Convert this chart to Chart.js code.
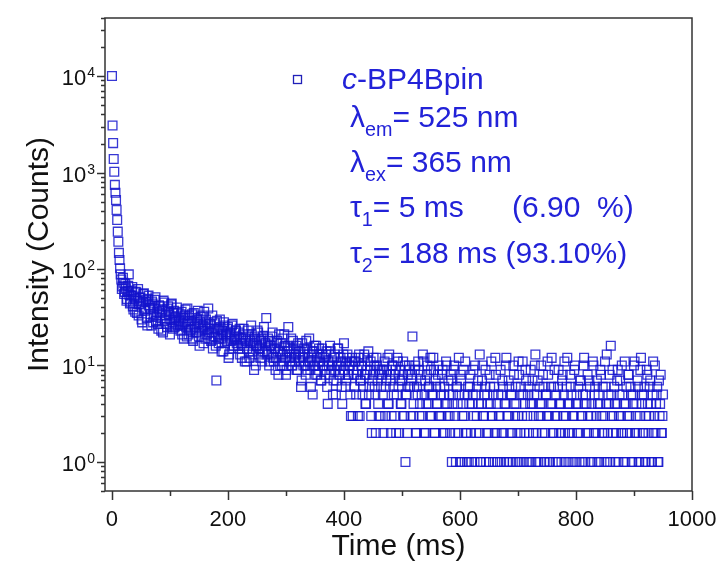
<!DOCTYPE html>
<html>
<head>
<meta charset="utf-8">
<script src="https://cdn.jsdelivr.net/npm/chart.js@4.4.1/dist/chart.umd.min.js"></script>
<style>
html, body { margin: 0; padding: 0; background: #fff; }
</style>
</head>
<body>
<canvas id="chart" width="728" height="561"></canvas>
<script>
// --- DATA ---
// first 16 ms, 1 ms apart
const decayTimes = [0, 1, 2, 3, 4, 5, 6, 7, 8, 9, 10, 11, 12, 13, 14, 15];
const decayCounts = [10000, 3080, 2020, 1380, 1020, 745, 617, 520, 410, 322, 244, 192, 147, 124, 102, 88];

// tail, even channels (16, 18, ... 950 ms)
const evenStart = 16;
const oddStart = 17;
const channelStep = 2;
const tailEvenA = [ // 16 - 214 ms
    78, 66, 72, 58, 63, 49, 67, 54, 45, 60, 41, 52, 36, 57, 47, 33, 50, 44, 28, 55, 39, 46, 31, 49, 42,
    38, 26, 44, 33, 48, 29, 36, 24, 41, 31, 37, 22, 45, 30, 27, 39, 34, 21, 43, 28, 35, 25, 32, 40, 26,
    30, 23, 36, 27, 19, 33, 25, 39, 21, 29, 24, 34, 18, 26, 31, 22, 37, 20, 28, 24, 33, 17, 25, 30, 21,
    39, 19, 26, 22, 15, 28, 20, 7, 24, 17, 30, 19, 23, 14, 26, 21, 18, 25, 13, 22, 19, 27, 16, 20, 23
];
const tailEvenB = [ // 216 - 514 ms
    20, 15, 24, 17, 12, 21, 16, 19, 11, 23, 14, 18, 26, 13, 17, 20, 10, 16, 22, 15, 12, 19, 14, 25, 17,
    31, 13, 18, 11, 16, 20, 12, 15, 9, 17, 14, 21, 10, 13, 19, 11, 16, 8, 14, 25, 12, 15, 10, 18, 13,
    11, 16, 9, 14, 12, 6, 17, 10, 13, 8, 15, 11, 19, 9, 12, 5, 14, 10, 16, 8, 11, 13, 7, 15, 10,
    12, 8, 14, 4, 10, 16, 9, 11, 7, 13, 5, 10, 15, 8, 12, 6, 9, 17, 11, 7, 13, 8, 10, 3, 12,
    9, 6, 11, 8, 3, 13, 7, 10, 5, 12, 8, 4, 9, 14, 6, 11, 2, 8, 10, 5, 12, 7, 3, 9, 6,
    8, 2, 11, 6, 9, 4, 13, 7, 3, 10, 5, 8, 2, 12, 6, 9, 4, 7, 11, 3, 1, 5, 8, 10, 6
];
const tailEvenC = [ // 516 - 950 ms
    7, 20, 4, 9, 2, 6, 11, 3, 8, 5, 13, 2, 7, 4, 10, 6, 3, 9, 5, 12, 2, 7, 4, 8, 3,
    6, 3, 9, 5, 2, 11, 4, 7, 3, 8, 1, 5, 10, 2, 6, 4, 12, 1, 7, 3, 9, 5, 2, 1, 6,
    4, 8, 1, 5, 3, 10, 2, 6, 4, 13, 1, 7, 3, 5, 9, 2, 4, 1, 6, 11, 3, 5, 2, 8, 1,
    5, 3, 9, 2, 6, 1, 4, 12, 3, 7, 1, 5, 2, 10, 4, 6, 1, 3, 8, 2, 5, 11, 1, 4, 7,
    3, 6, 1, 9, 4, 2, 5, 13, 1, 7, 3, 4, 10, 2, 6, 1, 5, 3, 8, 1, 4, 12, 2, 6, 3,
    5, 1, 9, 4, 2, 7, 3, 11, 1, 6, 4, 2, 8, 5, 1, 3, 10, 4, 2, 6, 1, 7, 3, 5, 12,
    1, 4, 8, 2, 6, 3, 1, 10, 5, 2, 7, 4, 1, 9, 3, 6, 2, 11, 4, 1, 5, 8, 16, 3, 2,
    6, 1, 4, 9, 3, 7, 2, 5, 1, 11, 4, 2, 8, 3, 6, 1, 5, 10, 2, 4, 7, 1, 3, 12, 5,
    2, 6, 1, 9, 4, 3, 7, 1, 5, 2, 10, 4, 6, 1, 3, 8, 2, 5
];

// tail, odd channels (17, 19, ... 949 ms)
const tailOddA = [ // 17 - 215 ms
    62, 81, 55, 70, 47, 59, 88, 44, 53, 65, 38, 49, 58, 35, 62, 43, 51, 30, 46, 56, 37, 48, 26, 53, 40,
    34, 46, 28, 39, 51, 32, 27, 42, 35, 23, 38, 47, 29, 33, 25, 41, 36, 30, 44, 24, 37, 31, 27, 35, 29,
    26, 34, 21, 31, 28, 38, 20, 27, 33, 23, 29, 19, 35, 25, 22, 30, 27, 16, 32, 23, 26, 36, 19, 28, 24,
    22, 27, 18, 33, 20, 24, 16, 29, 21, 19, 25, 14, 22, 28, 17, 20, 24, 12, 21, 18, 26, 15, 19, 23, 17
];
const tailOddB = [ // 217 - 515 ms
    16, 22, 13, 19, 17, 24, 11, 18, 15, 20, 12, 17, 21, 14, 9, 19, 16, 23, 13, 15, 18, 11, 20, 14, 17,
    14, 19, 10, 16, 13, 22, 11, 15, 12, 18, 8, 14, 17, 10, 13, 21, 12, 9, 16, 14, 11, 19, 10, 15, 12,
    13, 9, 17, 11, 14, 7, 12, 15, 10, 18, 9, 13, 11, 6, 14, 10, 16, 8, 12, 9, 15, 11, 7, 13, 10,
    9, 13, 6, 11, 8, 14, 10, 5, 12, 9, 7, 15, 10, 8, 11, 4, 13, 9, 6, 12, 8, 10, 5, 11, 3,
    8, 11, 5, 9, 12, 3, 7, 10, 6, 13, 4, 8, 11, 5, 9, 3, 7, 12, 6, 2, 10, 4, 8, 3, 9,
    5, 9, 3, 7, 12, 4, 8, 2, 10, 6, 3, 9, 5, 11, 2, 7, 4, 8, 3, 10, 5, 2, 6, 9, 3
];
const tailOddC = [ // 517 - 949 ms
    8, 3, 6, 10, 2, 5, 9, 4, 7, 3, 11, 5, 2, 8, 4, 6, 12, 3, 5, 9, 2, 6, 4, 10, 3,
    5, 8, 2, 6, 4, 10, 3, 5, 2, 7, 4, 9, 3, 1, 6, 2, 5, 8, 1, 4, 3, 11, 2, 5, 1,
    6, 2, 4, 9, 1, 5, 3, 7, 2, 1, 4, 10, 3, 6, 1, 5, 2, 8, 4, 3, 1, 6, 12, 2, 4,
    3, 1, 5, 7, 2, 4, 10, 1, 3, 6, 2, 5, 1, 8, 3, 4, 2, 11, 1, 6, 3, 5, 2, 9, 1,
    5, 2, 4, 1, 7, 3, 10, 2, 5, 1, 6, 3, 4, 8, 1, 2, 5, 11, 3, 1, 6, 4, 2, 9, 1,
    3, 6, 2, 4, 1, 8, 5, 2, 3, 12, 1, 4, 6, 2, 3, 9, 1, 5, 4, 2, 7, 3, 1, 10, 4,
    5, 2, 3, 7, 1, 4, 11, 2, 6, 3, 1, 5, 4, 8, 2, 3, 1, 6, 13, 2, 4, 1, 5, 9, 3,
    4, 2, 7, 1, 5, 3, 10, 2, 4, 1, 6, 3, 8, 2, 5, 1, 4, 11, 3, 2, 6, 1, 9, 4, 2,
    5, 1, 3, 8, 2, 6, 4, 1, 11, 3, 2, 5, 1, 7, 4, 2, 3
];

const xTickLabels = ['0', '200', '400', '600', '800', '1000'];
const yTickExponents = ['0', '1', '2', '3', '4'];

const legendLines = [
    { x: 342, y: 89, runs: [{ t: 'c', italic: true }, { t: '-BP4Bpin' }] },
    { x: 350, y: 127, runs: [{ t: 'λ' }, { t: 'em', sub: true }, { t: '= 525 nm' }] },
    { x: 350, y: 172, runs: [{ t: 'λ' }, { t: 'ex', sub: true }, { t: '= 365 nm' }] },
    { x: 350, y: 217, runs: [{ t: 'τ' }, { t: '1', sub: true }, { t: '= 5 ms' }] },
    { x: 512, y: 217, runs: [{ t: '(6.90  %)' }] },
    { x: 350, y: 263, runs: [{ t: 'τ' }, { t: '2', sub: true }, { t: '= 188 ms (93.10%)' }] }
];

// --- armar puntos ---
const points = [];
decayTimes.forEach((t, i) => points.push({ x: t, y: decayCounts[i] }));
[...tailEvenA, ...tailEvenB, ...tailEvenC].forEach((c, i) => {
    points.push({ x: evenStart + i * channelStep, y: c });
});
[...tailOddA, ...tailOddB, ...tailOddC].forEach((c, i) => {
    points.push({ x: oddStart + i * channelStep, y: c });
});
points.sort((p, q) => p.x - q.x);

const FONT = '"Liberation Sans", Arial, sans-serif';
const AXIS = '#333333';
const BLUE = '#2222d8';

function drawRuns(ctx, x, y, runs, size) {
    let cx = x;
    runs.forEach(r => {
        const s = r.sub ? size * 0.66 : size;
        ctx.font = (r.italic ? 'italic ' : '') + s + 'px ' + FONT;
        ctx.fillText(r.t, cx, r.sub ? y + size * 0.3 : y);
        cx += ctx.measureText(r.t).width;
    });
}

const framePlugin = {
    id: 'frame',
    afterDraw(chart) {
        const { ctx, chartArea: a, scales: { x, y } } = chart;
        ctx.save();
        ctx.strokeStyle = AXIS;
        ctx.lineWidth = 1.5;
        ctx.strokeRect(a.left, a.top, a.right - a.left, a.bottom - a.top);

        // ticks hacia afuera
        ctx.beginPath();
        for (let v = 0; v <= 1000; v += 100) {
            const px = Math.round(x.getPixelForValue(v)) + 0.5;
            ctx.moveTo(px, a.bottom);
            ctx.lineTo(px, a.bottom + (v % 200 === 0 ? 9 : 5));
        }
        for (let d = -1; d <= 4; d++) {
            for (let m = 1; m <= 9; m++) {
                const v = m * Math.pow(10, d);
                if (v < 0.5 || v > 40000) continue;
                const py = Math.round(y.getPixelForValue(v)) + 0.5;
                ctx.moveTo(a.left, py);
                ctx.lineTo(a.left - (m === 1 ? 8 : 4), py);
            }
        }
        ctx.stroke();

        ctx.fillStyle = '#111';
        ctx.textBaseline = 'alphabetic';
        ctx.font = '22px ' + FONT;
        ctx.textAlign = 'center';
        xTickLabels.forEach(l => {
            ctx.fillText(l, x.getPixelForValue(Number(l)), a.bottom + 35);
        });
        // 10^n
        yTickExponents.forEach(e => {
            const py = y.getPixelForValue(Math.pow(10, Number(e)));
            ctx.textAlign = 'right';
            ctx.font = '14px ' + FONT;
            const ew = ctx.measureText(e).width;
            ctx.fillText(e, 95, py + 1);
            ctx.font = '22px ' + FONT;
            ctx.fillText('10', 95 - ew - 1, py + 9);
        });

        ctx.textAlign = 'center';
        ctx.font = '30px ' + FONT;
        ctx.fillText('Time (ms)', (a.left + a.right) / 2, 555);
        ctx.save();
        ctx.translate(48, (a.top + a.bottom) / 2);
        ctx.rotate(-Math.PI / 2);
        ctx.font = '30px ' + FONT;
        ctx.fillText('Intensity (Counts)', 0, 0);
        ctx.restore();

        // leyenda
        ctx.strokeStyle = '#2020b8';
        ctx.lineWidth = 1.3;
        ctx.strokeRect(293.5, 75.5, 8, 8);
        ctx.fillStyle = BLUE;
        ctx.textAlign = 'left';
        legendLines.forEach(l => drawRuns(ctx, l.x, l.y, l.runs, 30));
        ctx.restore();
    }
};

new Chart(document.getElementById('chart'), {
    type: 'scatter',
    data: {
        datasets: [{
            data: points,
            pointStyle: 'rect',
            pointRadius: 6.2,
            pointBorderWidth: 1.3,
            borderColor: 'rgba(20, 20, 205, 0.85)',
            backgroundColor: 'rgba(0,0,0,0)'
        }]
    },
    options: {
        responsive: false,
        animation: false,
        layout: { padding: { top: 18, right: 36, left: 0, bottom: 0 }, autoPadding: false },
        plugins: { legend: { display: false }, tooltip: { enabled: false } },
        scales: {
            x: {
                type: 'linear', min: -12, max: 1000,
                ticks: { display: false }, grid: { display: false }, border: { display: false },
                afterFit: s => { s.height = 70; }
            },
            y: {
                type: 'logarithmic', min: 0.5, max: 40000,
                ticks: { display: false }, grid: { display: false }, border: { display: false },
                afterFit: s => { s.width = 105; }
            }
        }
    },
    plugins: [framePlugin]
});
</script>
</body>
</html>
